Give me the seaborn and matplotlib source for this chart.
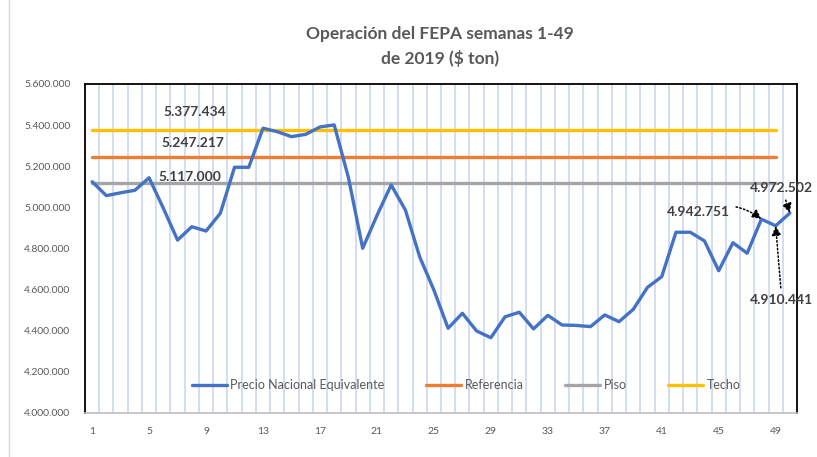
import matplotlib
matplotlib.use("Agg")
import matplotlib.pyplot as plt
from matplotlib.lines import Line2D
import seaborn as sns
import pandas as pd
from matplotlib.ticker import FuncFormatter, FixedLocator

# ---- data ----
semanas = list(range(1, 51))
precio = [5125000, 5057000, 5071000, 5083000, 5144000, 4996000, 4841000, 4906000, 4885000, 4971000,
          5195000, 5195000, 5385000, 5368000, 5344000, 5355000, 5391000, 5401000, 5145000, 4801000,
          4960000, 5109000, 4987000, 4760000, 4598000, 4412000, 4485000, 4399000, 4366000, 4468000,
          4490000, 4409000, 4475000, 4428000, 4426000, 4420000, 4477000, 4444000, 4504000, 4611000,
          4663000, 4879000, 4879000, 4837000, 4692000, 4828000, 4777000, 4942751, 4910441, 4972502]
semanas_ref = list(range(1, 50))
referencia_val = 5247217
piso_val = 5117000
techo_val = 5377434
referencia = [referencia_val] * len(semanas_ref)
piso = [piso_val] * len(semanas_ref)
techo = [techo_val] * len(semanas_ref)
xtick_labels = [1, 5, 9, 13, 17, 21, 25, 29, 33, 37, 41, 45, 49]
ytick_vals = [4000000, 4200000, 4400000, 4600000, 4800000, 5000000, 5200000, 5400000, 5600000]
title = "Operación del FEPA semanas 1-49\nde 2019 ($ ton)"

# ---- style ----
sns.set_style("white")
plt.rcParams["font.family"] = ["Lato", "DejaVu Sans"]

fig = plt.figure(figsize=(8.17, 4.57), dpi=100)
ax = fig.add_axes([85/817, 1-413/457, (797-85)/817, (413-84)/457])

# vertical gridlines at category boundaries
for b in range(1, 50):
    ax.axvline(b + 0.5, color="#cbd8f0", lw=1.2, zorder=0)

lw = 2.4
sns.lineplot(x=semanas, y=precio, ax=ax, color="#4472c4", lw=lw, label="Precio Nacional Equivalente", zorder=5)
sns.lineplot(x=semanas_ref, y=referencia, ax=ax, color="#ed7d31", lw=lw, label="Referencia", zorder=3)
sns.lineplot(x=semanas_ref, y=piso, ax=ax, color="#a5a5a5", lw=lw, label="Piso", zorder=3)
sns.lineplot(x=semanas_ref, y=techo, ax=ax, color="#ffc000", lw=lw, label="Techo", zorder=3)

ax.set_xlim(0.5, 50.5)
ax.set_ylim(4000000, 5600000)
ax.set_xlabel("")
ax.set_ylabel("")
ax.xaxis.set_major_locator(FixedLocator(xtick_labels))
ax.yaxis.set_major_locator(FixedLocator(ytick_vals))
ax.yaxis.set_major_formatter(FuncFormatter(lambda v, p: f"{int(v):,}".replace(",", ".")))
ax.tick_params(axis="both", length=0, labelsize=7.5, labelcolor="#595959")
ax.tick_params(axis="y", pad=10.5)
ax.tick_params(axis="x", pad=10)

for s in ["top", "left", "right"]:
    ax.spines[s].set_color("black")
    ax.spines[s].set_linewidth(1.3)
ax.spines["bottom"].set_color("#bfbfbf")
ax.spines["bottom"].set_linewidth(1.2)

# level labels
lab_kw = dict(textcoords="offset points", ha="center", va="center",
              fontsize=10, fontweight="bold", color="#404040", zorder=6)
ax.annotate(f"{techo_val:,}".replace(",", "."), xy=(8.2, techo_val), xytext=(0, 13), **lab_kw)
ax.annotate(f"{referencia_val:,}".replace(",", "."), xy=(8.1, referencia_val), xytext=(0, 10), **lab_kw)
ax.annotate(f"{piso_val:,}".replace(",", "."), xy=(7.9, piso_val), xytext=(0, 4.5), **lab_kw)

# point annotations
ann_kw = dict(fontsize=10, fontweight="bold", color="#404040", annotation_clip=False, zorder=7)
arrow = dict(arrowstyle="-|>", color="black", lw=1.1, linestyle=(0, (1, 1.5)),
             mutation_scale=14, shrinkA=2, shrinkB=0)
ax.annotate("4.942.751", xy=(48, precio[47]), xytext=(45.8, 4978000), ha="right", va="center",
            arrowprops=dict(connectionstyle="arc3,rad=-0.3", **arrow), **ann_kw)
ax.annotate("4.910.441", xy=(49, precio[48]), xytext=(51.65, 4550000), ha="right", va="center",
            arrowprops=dict(connectionstyle="arc3,rad=0", **arrow), **ann_kw)
ax.annotate("4.972.502", xy=(50, precio[49]), xytext=(51.65, 5093000), ha="right", va="center",
            arrowprops=dict(connectionstyle="arc3,rad=0", **arrow), **ann_kw)

# legend
leg = ax.legend(loc="center", bbox_to_anchor=(466/817, 1-385/457), bbox_transform=fig.transFigure,
                ncol=4, frameon=False, fontsize=9, handlelength=2.8, columnspacing=3.3,
                handletextpad=0.3)
for t in leg.get_texts():
    t.set_color("#595959")

fig.suptitle(title, x=440/817, y=1-26/457, va="top", fontsize=12.5, fontweight="bold",
             color="#595959", linespacing=1.6)

fig.add_artist(Line2D([9/817, 9/817], [0, 1], color="#d9d9d9", lw=1, transform=fig.transFigure))

fig.savefig("out.png", dpi=100)
